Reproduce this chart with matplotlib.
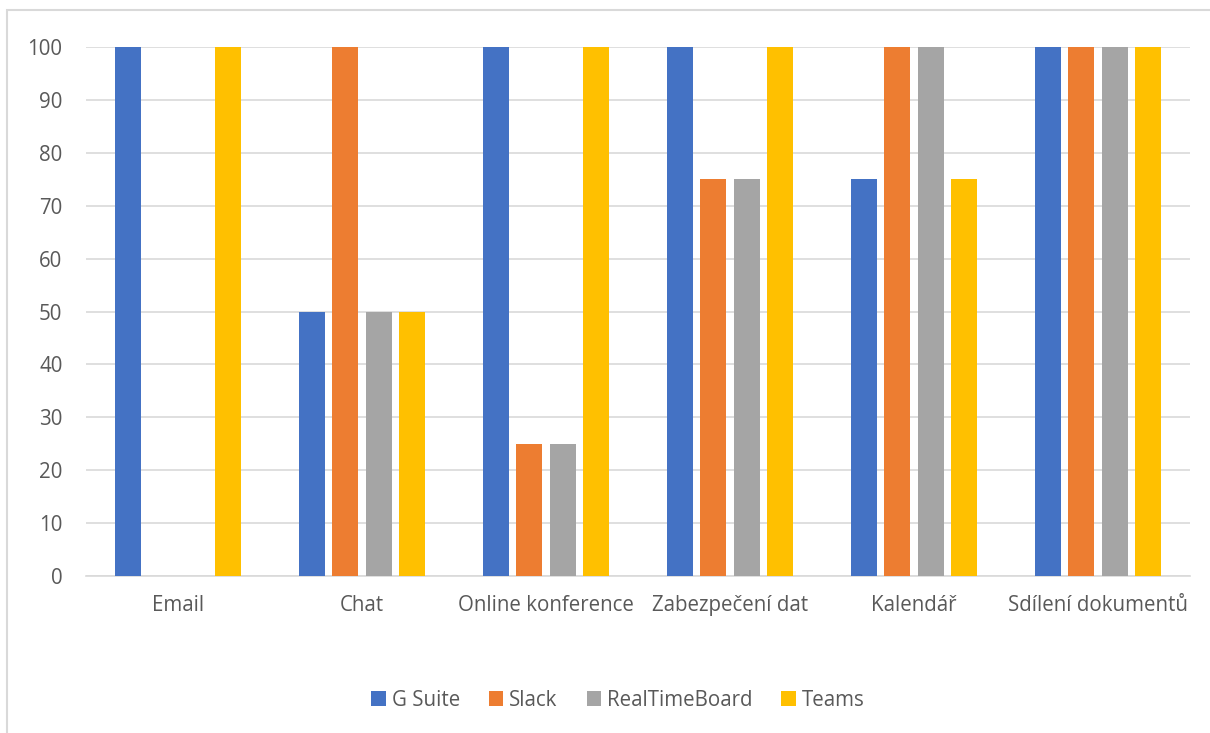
#! /usr/bin/env python3

import numpy as np
import matplotlib.pyplot as plt
from matplotlib.patches import Rectangle

categories = ["Email", "Chat", "Online konference", "Zabezpečení dat", "Kalendář", "Sdílení dokumentů"]
series = ["G Suite", "Slack", "RealTimeBoard", "Teams"]
g_suite = [100, 50, 100, 100, 75, 100]
slack = [0, 100, 25, 75, 100, 100]
realtimeboard = [0, 50, 25, 75, 100, 100]
teams = [100, 50, 100, 100, 75, 100]
colors = ["#4472C4", "#ED7D31", "#A5A5A5", "#FFC000"]

plt.rcParams['font.family'] = ['Open Sans', 'DejaVu Sans']
txt = "#595959"
grid = "#D9D9D9"

W, H = 1210, 733
fig = plt.figure(figsize=(W/100, H/100), dpi=100)
ax = fig.add_axes([86/W, 1-576/H, (1190-86)/W, (576-47)/H])

x = np.arange(len(categories))
width = 26/184
step = 33.3/184
for k, (name, vals) in enumerate(zip(series, [g_suite, slack, realtimeboard, teams])):
    ax.bar(x + (k-1.5)*step, vals, width, color=colors[k], label=name, zorder=3)

ax.set_xlim(-0.5, len(categories)-0.5)
ax.set_ylim(0, 100)
ax.set_yticks(range(0, 101, 10))
ax.set_xticks(x)
ax.set_xticklabels(categories)
ax.grid(True, axis='y', color=grid, lw=1.2, zorder=0)
for s in ['top', 'right', 'left']:
    ax.spines[s].set_visible(False)
ax.spines['bottom'].set_color(grid)
ax.spines['bottom'].set_linewidth(1.2)
ax.tick_params(axis='both', length=0, labelsize=14.8, labelcolor=txt)
ax.tick_params(axis='y', pad=17)
ax.tick_params(axis='x', pad=14)

leg = fig.legend(loc='center', bbox_to_anchor=(618/W, 1-700/H), ncol=4, frameon=False,
                 fontsize=14.8, handlelength=0.7, handleheight=0.7, handletextpad=0.3,
                 columnspacing=1.4, labelcolor=txt)

fig.patches.append(Rectangle((7/W, -0.1), 1.2, 1-10/H+0.1, transform=fig.transFigure,
                             fill=False, edgecolor=grid, lw=1.5))

fig.savefig("out.png", dpi=100)
